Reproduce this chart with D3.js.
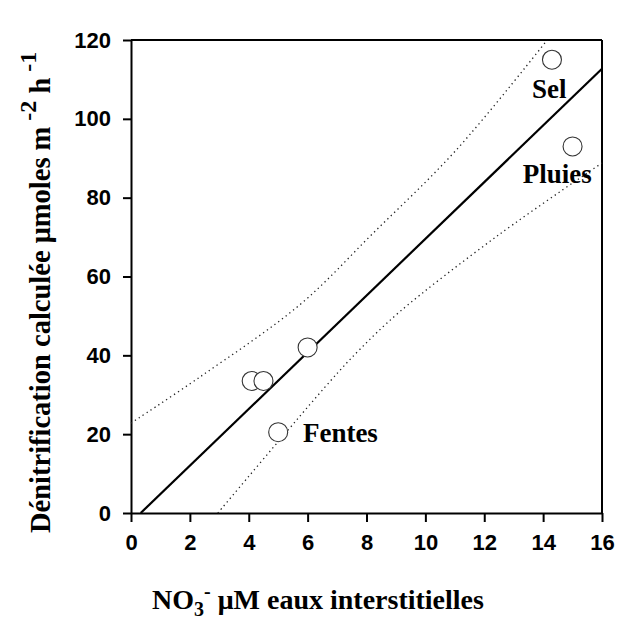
<!DOCTYPE html>
<html>
<head>
<meta charset="utf-8">
<script src="https://cdn.jsdelivr.net/npm/d3@7"></script>
<style>
  body { margin: 0; background: #fff; }
  .tick text { font-family: "Liberation Sans", Arial, sans-serif; font-weight: bold; font-size: 22px; fill: #000; }
  .ttl { font-family: "Liberation Serif", "Times New Roman", serif; font-weight: bold; fill: #000; }
</style>
</head>
<body>
<svg id="chart" width="619" height="630"></svg>
<script>
// observed points: nitrate in pore water vs computed denitrification
const no3 = [4.1, 4.5, 6.0, 5.0, 14.3, 15.0];
const denit = [33.5, 33.5, 42, 20.5, 115, 93];

// annotations
const labelNames = ['Sel', 'Pluies', 'Fentes'];
const labelX = [13.62, 13.31, 5.84];
const labelY = [105.3, 83.8, 18.0];

// regression line endpoints
const fitX = [0.33, 16];
const fitY = [0, 112.7];

// confidence band
const upperX = [0, 2.34, 5.73, 8.2, 11.05, 14.14];
const upperY = [22.8, 34.5, 52.8, 70.8, 92.1, 120];
const lowerX = [2.95, 6.75, 7.76, 9.12, 12.5, 16];
const lowerY = [0, 33.3, 41.4, 51.0, 70.6, 88.8];

const xTicks = [0, 2, 4, 6, 8, 10, 12, 14, 16];
const yTicks = [0, 20, 40, 60, 80, 100, 120];

const svg = d3.select('#chart');
const margin = {top: 40, right: 17, bottom: 117, left: 131};
const width = 619, height = 630;

const x = d3.scaleLinear().domain([0, 16]).range([margin.left, width - margin.right]);
const y = d3.scaleLinear().domain([0, 120]).range([height - margin.bottom, margin.top]);

// frame: top and right lines
svg.append('line')
    .attr('x1', x(0)).attr('x2', x(16)).attr('y1', y(120)).attr('y2', y(120))
    .attr('stroke', '#000').attr('stroke-width', 2);
svg.append('line')
    .attr('x1', x(16)).attr('x2', x(16)).attr('y1', y(0)).attr('y2', y(120))
    .attr('stroke', '#000').attr('stroke-width', 2);

const xAxis = svg.append('g')
    .attr('transform', `translate(0,${y(0)})`)
    .call(d3.axisBottom(x).tickValues(xTicks).tickSize(9).tickPadding(12).tickSizeOuter(0));
const yAxis = svg.append('g')
    .attr('transform', `translate(${x(0)},0)`)
    .call(d3.axisLeft(y).tickValues(yTicks).tickSize(8).tickPadding(12).tickSizeOuter(0));
[xAxis, yAxis].forEach((g) => {
  g.select('.domain').attr('stroke', '#000').attr('stroke-width', 2);
  g.selectAll('.tick line').attr('stroke', '#000').attr('stroke-width', 2);
  g.attr('font-family', null).attr('font-size', null);
});

const line = d3.line().x((d) => x(d[0])).y((d) => y(d[1]));
const band = d3.line().x((d) => x(d[0])).y((d) => y(d[1])).curve(d3.curveCatmullRom);

svg.append('path')
    .datum(d3.zip(upperX, upperY))
    .attr('d', band).attr('fill', 'none')
    .attr('stroke', '#222').attr('stroke-width', 1.3)
    .attr('stroke-dasharray', '1.3,3.4');
svg.append('path')
    .datum(d3.zip(lowerX, lowerY))
    .attr('d', band).attr('fill', 'none')
    .attr('stroke', '#222').attr('stroke-width', 1.3)
    .attr('stroke-dasharray', '1.3,3.4');

svg.append('path')
    .datum(d3.zip(fitX, fitY))
    .attr('d', line).attr('fill', 'none')
    .attr('stroke', '#000').attr('stroke-width', 2.2);

svg.selectAll('circle.pt')
    .data(d3.zip(no3, denit))
    .join('circle')
    .attr('class', 'pt')
    .attr('cx', (d) => x(d[0]))
    .attr('cy', (d) => y(d[1]))
    .attr('r', 9.5)
    .attr('fill', '#fff')
    .attr('stroke', '#333')
    .attr('stroke-width', 1.1);

svg.selectAll('text.lab')
    .data(labelNames)
    .join('text')
    .attr('class', 'lab ttl')
    .attr('x', (d, i) => x(labelX[i]))
    .attr('y', (d, i) => y(labelY[i]))
    .style('font-size', '27px')
    .text((d) => d);

// x title
const xt = svg.append('text').attr('class', 'ttl')
    .attr('x', 152).attr('y', 609).style('font-size', '28px');
xt.append('tspan').text('NO');
xt.append('tspan').attr('dy', 7).style('font-size', '20px').text('3');
xt.append('tspan').attr('dy', -18).style('font-size', '20px').text('-');
xt.append('tspan').attr('dy', 11).text(' \u03bcM eaux interstitielles');

// y title
const yt = svg.append('text').attr('class', 'ttl')
    .attr('transform', 'translate(50,533) rotate(-90)')
    .style('font-size', '28.5px');
yt.append('tspan').text('D\u00e9nitrification calcul\u00e9e \u03bcmoles m');
yt.append('tspan').attr('dy', -14).style('font-size', '24px').text(' -2');
yt.append('tspan').attr('dy', 14).text(' h');
yt.append('tspan').attr('dy', -14).style('font-size', '24px').text(' -1');
</script>
</body>
</html>
